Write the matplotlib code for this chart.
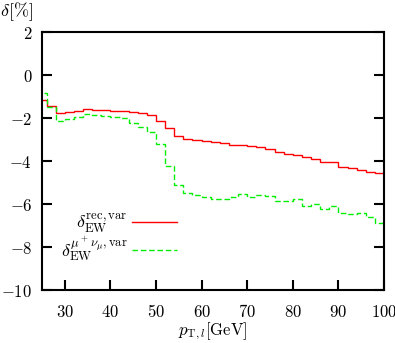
import matplotlib
matplotlib.use("Agg")
import matplotlib.pyplot as plt
import numpy as np

plt.rcParams['mathtext.fontset'] = 'cm'
plt.rcParams['font.family'] = 'serif'
plt.rcParams['font.serif'] = ['DejaVu Serif']

# bin edges in GeV (2 GeV bins, first one cut at 25 by the axis)
edges = np.arange(24, 101, 2)

# delta_EW^{rec,var} [%]
delta_rec = [-1.16, -1.43, -1.78, -1.71, -1.66, -1.60, -1.62, -1.64, -1.66, -1.68,
             -1.74, -1.76, -1.88, -2.14, -2.48, -2.86, -2.97, -3.02, -3.09, -3.12,
             -3.18, -3.24, -3.25, -3.30, -3.36, -3.44, -3.57, -3.67, -3.72, -3.80,
             -3.92, -4.03, -4.04, -4.26, -4.33, -4.40, -4.53, -4.56]

# delta_EW^{mu+ nu_mu,var} [%]
delta_bare = [-0.82, -1.47, -2.16, -2.05, -1.97, -1.81, -1.85, -1.90, -1.96, -2.00,
              -2.25, -2.40, -2.65, -3.22, -4.21, -5.12, -5.50, -5.58, -5.66, -5.75,
              -5.75, -5.67, -5.55, -5.67, -5.60, -5.63, -5.84, -5.84, -5.75, -6.08,
              -6.00, -6.25, -6.11, -6.40, -6.48, -6.43, -6.62, -6.87]

xticks = [30, 40, 50, 60, 70, 80, 90, 100]
yticks = [-10, -8, -6, -4, -2, 0, 2]

fig = plt.figure(figsize=(3.95, 3.43), dpi=100)
ax = fig.add_axes([0.1063, 0.1545, 0.8659, 0.7522])

ax.stairs(delta_rec, edges, color='#ff0000', linewidth=1.0,
          label=r'$\delta_{\rm EW}^{\rm rec,var}$')
ax.stairs(delta_bare, edges, color='#00ee00', linewidth=1.0, linestyle=(0, (4, 2)),
          label=r'$\delta_{\rm EW}^{\mu^+\nu_\mu,{\rm var}}$')

ax.set_xlim(25, 100)
ax.set_ylim(-10, 2)
ax.set_xticks(xticks)
ax.set_yticks(yticks)
ax.set_yticklabels([r'$%d$' % v for v in yticks])
ax.set_xticklabels([r'$%d$' % v for v in xticks])
ax.tick_params(axis='both', direction='in', length=7, width=1.5, labelsize=12)
ax.tick_params(axis='y', right=True, pad=7)
ax.tick_params(axis='x', pad=10)
for s in ax.spines.values():
    s.set_linewidth(1.5)

ax.set_xlabel(r'$p_{\rm T,\mathit{l}}[{\rm GeV}]$', fontsize=12, labelpad=0)
fig.text(0.0, 0.965, r'$\delta[\%]$', fontsize=13, ha='left', va='center')

ax.legend(loc='center right', bbox_to_anchor=(0.395, 0.205), frameon=False,
          markerfirst=False, handlelength=2.5, fontsize=13, labelspacing=-0.1,
          handletextpad=0.25, borderpad=0, borderaxespad=0)

fig.savefig('out.png', dpi=100)
